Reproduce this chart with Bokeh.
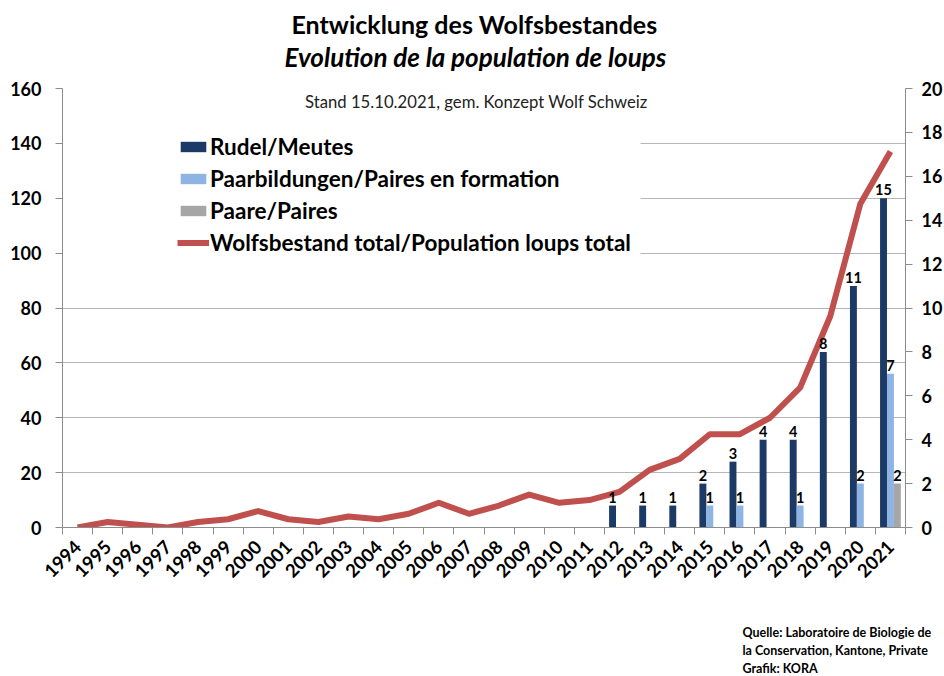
import math
from bokeh.plotting import figure
from bokeh.models import (Range1d, LinearAxis, FixedTicker, ColumnDataSource, Legend,
                          LegendItem, Label, LabelSet, BoxAnnotation, Title)
from bokeh.core.properties import value
from bokeh.transform import dodge
from bokeh.embed import file_html
from bokeh.resources import INLINE

# ---------------- data ----------------
years = list(range(1994, 2022))
total = [0, 2, 1, 0, 2, 3, 6, 3, 2, 4, 3, 5, 9, 5, 8, 12, 9, 10, 13, 21, 25, 34, 34, 40, 51, 77, 118, 137]
rudel = [0] * 18 + [1, 1, 1, 2, 3, 4, 4, 8, 11, 15]
paarbildungen = [0] * 21 + [1, 1, 0, 1, 0, 2, 7]
paare = [0] * 27 + [2]
left_ticks = list(range(0, 161, 20))
right_ticks = list(range(0, 21, 2))

title_de = "Entwicklung des Wolfsbestandes"
title_fr = "Evolution de la population de loups"
subtitle = "Stand 15.10.2021, gem. Konzept Wolf Schweiz"
source_lines = ["Quelle: Laboratoire de Biologie de",
                "la Conservation, Kantone, Private",
                "Grafik: KORA"]
names = ["Rudel/Meutes", "Paarbildungen/Paires en formation", "Paare/Paires",
         "Wolfsbestand total/Population loups total"]

# ---------------- styles ----------------
FONT = "Lato"
C_RUDEL = "#1b3a66"
C_PB = "#8db4e2"
C_PAARE = "#a6a6a6"
C_LINE = "#c0504d"
GRID = "#b5b5b5"
AXIS = "#8c8c8c"
W = 0.23

src = ColumnDataSource(dict(year=years, total=total, rudel=rudel, pb=paarbildungen, paare=paare))

p = figure(frame_width=843, frame_height=439, output_backend="svg", toolbar_location=None,
           x_range=Range1d(1993.5, 2021.5), y_range=Range1d(0, 160),
           min_border_left=62, min_border_right=39, min_border_top=88, min_border_bottom=149,
           title=None)
p.outline_line_color = None
p.background_fill_color = "white"
p.border_fill_color = "white"
p.extra_y_ranges = {"bars": Range1d(0, 20)}

# grid
p.xgrid.grid_line_color = None
p.ygrid.grid_line_color = GRID
p.ygrid.ticker = FixedTicker(ticks=left_ticks)

# x axis: labels at year centres, tick marks between categories
xa = p.xaxis[0]
xa.ticker = FixedTicker(ticks=years, minor_ticks=[y - 0.5 for y in years] + [years[-1] + 0.5])
xa.major_tick_line_color = None
xa.minor_tick_line_color = AXIS
xa.minor_tick_in = 0
xa.minor_tick_out = 7
xa.axis_line_color = AXIS
xa.major_label_orientation = math.pi / 4
xa.major_label_standoff = 9
xa.major_label_text_font = FONT
xa.major_label_text_font_style = "bold"
xa.major_label_text_font_size = "18.5px"
xa.major_label_text_color = "black"

# left axis
ya = p.yaxis[0]
ya.ticker = FixedTicker(ticks=left_ticks)
ya.minor_tick_line_color = None
ya.major_tick_in = 0
ya.major_tick_out = 7
ya.major_tick_line_color = AXIS
ya.axis_line_color = AXIS
ya.major_label_standoff = 14
ya.major_label_text_font = FONT
ya.major_label_text_font_style = "bold"
ya.major_label_text_font_size = "18px"
ya.major_label_text_color = "black"

# right axis
ra = LinearAxis(y_range_name="bars", ticker=FixedTicker(ticks=right_ticks))
ra.minor_tick_line_color = None
ra.major_tick_in = 0
ra.major_tick_out = 7
ra.major_tick_line_color = AXIS
ra.axis_line_color = AXIS
ra.major_label_standoff = 9
ra.major_label_text_font = FONT
ra.major_label_text_font_style = "bold"
ra.major_label_text_font_size = "18px"
ra.major_label_text_color = "black"
p.add_layout(ra, "right")

# white box behind legend (hides gridlines like in the original)
p.add_layout(BoxAnnotation(left=1993.52, right=2012.7, top=146, bottom=96,
                           fill_color="white", fill_alpha=1, line_color=None, level="underlay"))

# bars
r1 = p.vbar(x=dodge("year", -W), top="rudel", width=W, source=src, y_range_name="bars",
            fill_color=C_RUDEL, line_color=None)
r2 = p.vbar(x=dodge("year", 0), top="pb", width=W, source=src, y_range_name="bars",
            fill_color=C_PB, line_color=None)
r3 = p.vbar(x=dodge("year", W), top="paare", width=W, source=src, y_range_name="bars",
            fill_color=C_PAARE, line_color=None)

# line
r4 = p.line(x="year", y="total", source=src, line_color=C_LINE, line_width=6, line_join="round")

# bar value labels
lx, ly, lt = [], [], []
for series, off in ((rudel, -W), (paarbildungen, 0), (paare, W)):
    for yr, v in zip(years, series):
        if v:
            lx.append(yr + off)
            ly.append(v)
            lt.append(str(v))
lab_src = ColumnDataSource(dict(x=lx, y=ly, t=lt))
p.add_layout(LabelSet(x="x", y="y", text="t", source=lab_src, y_range_name="bars",
                      y_offset=3, text_align="center", text_baseline="bottom",
                      text_font=value(FONT), text_font_style="bold", text_font_size="14.5px",
                      text_color="black"))

# legend
legend = Legend(items=[LegendItem(label=names[0], renderers=[r1]),
                       LegendItem(label=names[1], renderers=[r2]),
                       LegendItem(label=names[2], renderers=[r3]),
                       LegendItem(label=names[3], renderers=[r4])],
                location=(115, 271), orientation="vertical",
                background_fill_alpha=0, border_line_color=None,
                label_text_font=FONT, label_text_font_style="bold", label_text_font_size="22.5px",
                label_text_color="black", glyph_width=32, glyph_height=13, label_height=27,
                label_standoff=1, spacing=5, padding=5, margin=0)
p.add_layout(legend, "center")

# subtitle inside the frame
p.add_layout(Label(x=414, y=426, x_units="screen", y_units="screen", text=subtitle,
                   text_align="center", text_baseline="middle", text_font=FONT,
                   text_font_size="16.7px", text_color="#222222"))

# titles above (first added sits closest to the plot)
p.add_layout(Title(text=title_fr, align="left", offset=222, standoff=32,
                   text_font=FONT, text_font_style="bold italic", text_font_size="26px",
                   text_color="black"), "above")
p.add_layout(Title(text=title_de, align="left", offset=229, standoff=-32,
                   text_font=FONT, text_font_style="bold", text_font_size="25px",
                   text_color="black"), "above")

# source note below the axis
p.add_layout(Title(text="\n\n" + "\n".join(source_lines), align="left", offset=680, standoff=0,
                   text_font=FONT, text_font_style="bold", text_font_size="12.5px",
                   text_line_height=1.2, text_color="black"), "below")

open("out.html", "w").write(file_html(p, INLINE))
